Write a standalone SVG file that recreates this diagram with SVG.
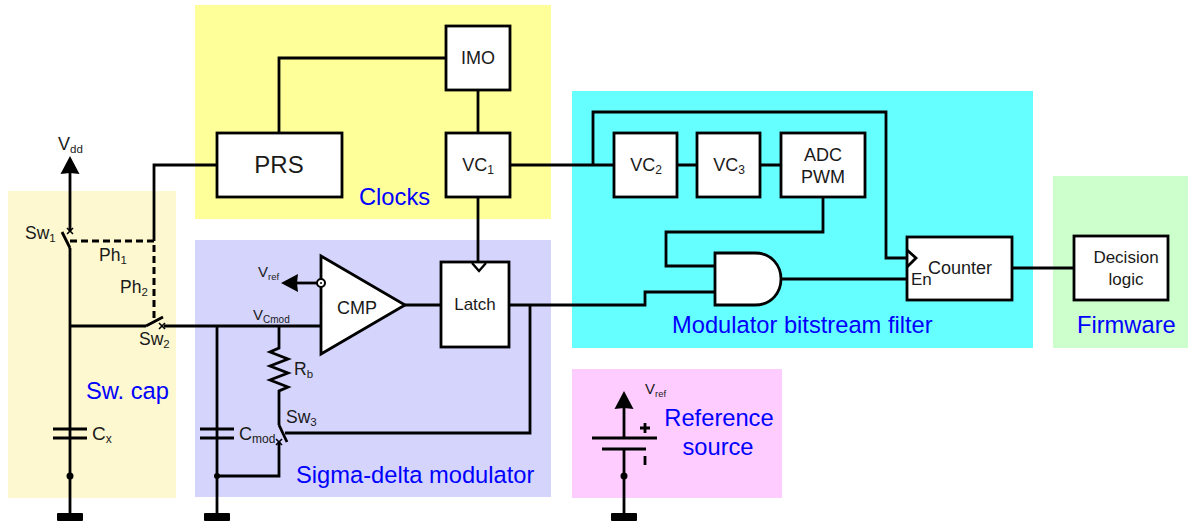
<svg xmlns="http://www.w3.org/2000/svg" width="1188" height="521" viewBox="0 0 1188 521">
<style>
text{font-family:"Liberation Sans",Arial,sans-serif;fill:#1a1a1a}
.w{fill:none;stroke:#000;stroke-width:2.8;stroke-linejoin:miter}
.t{fill:none;stroke:#000;stroke-width:2.4}
.d{fill:none;stroke:#000;stroke-width:3;stroke-dasharray:7 4}
.b{fill:#fff;stroke:#000;stroke-width:2.8}
.dot{fill:#000}
.lbl{font-size:23.7px;fill:#0000ff}
.n{font-size:17px}
.m{font-size:18px}
.s{font-size:17.500px}
.c{text-anchor:middle}
.x{fill:none;stroke:#000;stroke-width:1.6}
</style>
<defs>
<rect id="gnd" x="-13" y="0" width="26" height="8" rx="1" fill="#000"/>
<path id="arrowU" d="M0 0L9.500 18L0 17L-9.500 18Z" fill="#000"/>
</defs>
<g id="regions">
<rect x="8" y="191" width="168" height="307" fill="#fdf8cf"/>
<rect x="195" y="5" width="356" height="214" fill="#ffff99"/>
<rect x="195" y="240" width="356" height="257" fill="#d4d4fc"/>
<rect x="572" y="91" width="461" height="257" fill="#66ffff"/>
<rect x="1053" y="176" width="135" height="172" fill="#ccffcc"/>
<rect x="572" y="369" width="210" height="129" fill="#ffccff"/>
</g>
<g id="connectors">
<path class="w" d="M446 58H279V133"/>
<path class="w" d="M478 90V133"/>
<path class="w" d="M217 165H154V241"/>
<path class="w" d="M510 165H614M677 165H697M760 165H781"/>
<path class="w" d="M593 165V112H886V258H907"/>
<path class="w" d="M478 197V262"/>
<path class="w" d="M823 197V232H666V266H715"/>
<path class="w" d="M509 305H645V292H715"/>
<path class="w" d="M781 279H907"/>
<path class="w" d="M1012 268H1074"/>
<path class="w" d="M405 305H441"/>
<path class="w" d="M530 305V433H285"/>
<path class="w" d="M70 170V231M70 248V514"/>
<path class="w" d="M70 326H146M164 326H321"/>
<path class="w" d="M217 326V514"/>
<path class="w" d="M279 326V348L270 352L288 359L270 366L288 373L270 380L288 387L279 391V425"/>
<path class="w" d="M279 442V476H217"/>
<path class="w" d="M321 283H296"/>
<path class="w" d="M624 405V438M624 449V514"/>
<path class="d" d="M70 241H154V322"/>
<path class="w" d="M62 232L70 248"/>
<path class="w" d="M146 326L163 317"/>
<path class="w" d="M279 425L287 442"/>
<path class="x" d="M67 228L73 234"/><path class="x" d="M73 228L67 234"/>
<path class="x" d="M159 323L165 329"/><path class="x" d="M165 323L159 329"/>
<path class="x" d="M276 439L282 445"/><path class="x" d="M282 439L276 445"/>
</g>
<g id="node-imo"><rect class="b" x="446" y="26" width="64" height="64"/><text class="m c" x="478" y="64">IMO</text></g>
<g id="node-prs"><rect class="b" x="217" y="133" width="125" height="64"/><text class="c" font-size="24" x="279" y="173">PRS</text></g>
<g id="node-vc1"><rect class="b" x="446" y="133" width="64" height="64"/><text class="m c" x="478" y="171">VC<tspan font-size="12" dy="3">1</tspan></text></g>
<g id="node-vc2"><rect class="b" x="614" y="133" width="63" height="64"/><text class="m c" x="646" y="171">VC<tspan font-size="12" dy="3">2</tspan></text></g>
<g id="node-vc3"><rect class="b" x="697" y="133" width="63" height="64"/><text class="m c" x="729" y="171">VC<tspan font-size="12" dy="3">3</tspan></text></g>
<g id="node-adc"><rect class="b" x="781" y="133" width="84" height="64"/><text class="m c" x="823" y="161">ADC</text><text class="m c" x="823" y="183">PWM</text></g>
<g id="node-counter"><rect class="b" x="907" y="237" width="105" height="63"/><path class="w" d="M907 250L916 258L907 267" fill="#fff"/><text class="m" x="928" y="274">Counter</text><text class="n" x="911" y="285">En</text></g>
<g id="node-decision"><rect class="b" x="1074" y="236" width="94" height="64"/><text class="n c" x="1126" y="263">Decision</text><text class="n c" x="1126" y="285">logic</text></g>
<g id="node-latch"><rect class="b" x="441" y="262" width="68" height="85"/><path class="t" d="M472 263L479 271L486 263" fill="#fff"/><text class="n c" x="475" y="310">Latch</text></g>
<g id="node-cmp"><path class="b" d="M321 256L405 305L321 354Z"/><circle cx="321" cy="283" r="4" fill="#fff" stroke="#000" stroke-width="2"/><circle cx="321" cy="283" r="1" fill="#000"/><text class="m c" x="357" y="314">CMP</text></g>
<g id="node-and"><path class="b" d="M715 253H755C772 253 781 266 781 279C781 292 772 305 755 305H715Z"/></g>
<g id="symbols">
<use href="#arrowU" x="70" y="156"/>
<path d="M281 283L298 274L297 283L298 292Z" fill="#000"/>
<use href="#arrowU" x="624" y="391"/>
<path class="w" d="M53 429H87M53 438H87M200 429H234M200 438H234"/>
<path class="w" d="M592 438H657M602 449H646"/>
<path class="w" d="M640 428H650M645 423V433"/>
<path class="w" d="M645 456V465"/>
<circle class="dot" cx="70" cy="476" r="3.500"/>
<circle class="dot" cx="217" cy="476" r="3"/>
<circle class="dot" cx="624" cy="476" r="3.500"/>
<use href="#gnd" x="70" y="513"/><use href="#gnd" x="217" y="513"/><use href="#gnd" x="624" y="513"/>
</g>
<g id="labels">
<text x="58" y="150" font-size="18">V<tspan font-size="11.500" dy="3">dd</tspan></text>
<text class="s" x="25" y="239">Sw<tspan font-size="11.500" dy="3">1</tspan></text>
<text class="s" x="99" y="261">Ph<tspan font-size="11.500" dy="3">1</tspan></text>
<text class="s" x="120" y="293">Ph<tspan font-size="11.500" dy="3">2</tspan></text>
<text class="s" x="139" y="345">Sw<tspan font-size="11.500" dy="3">2</tspan></text>
<text x="92" y="440" font-size="19">C<tspan font-size="12" dy="3">x</tspan></text>
<text x="258" y="277" font-size="15">V<tspan font-size="9.500" dy="3">ref</tspan></text>
<text x="253" y="320" font-size="15">V<tspan font-size="10" dy="3">Cmod</tspan></text>
<text class="s" x="294" y="375">R<tspan font-size="11.500" dy="3">b</tspan></text>
<text class="s" x="286" y="423">Sw<tspan font-size="11.500" dy="3">3</tspan></text>
<text x="239" y="440" font-size="18">C<tspan font-size="12" dy="3">mod</tspan></text>
<text x="645" y="394" font-size="15">V<tspan font-size="9.500" dy="3">ref</tspan></text>
<text class="lbl" x="359" y="205">Clocks</text>
<text class="lbl" x="86" y="399">Sw. cap</text>
<text class="lbl" x="296" y="483">Sigma-delta modulator</text>
<text class="lbl" x="672" y="333">Modulator bitstream filter</text>
<text class="lbl" x="1077" y="333">Firmware</text>
<text class="lbl c" x="719" y="426">Reference</text>
<text class="lbl c" x="718" y="455">source</text>
</g>
</svg>
